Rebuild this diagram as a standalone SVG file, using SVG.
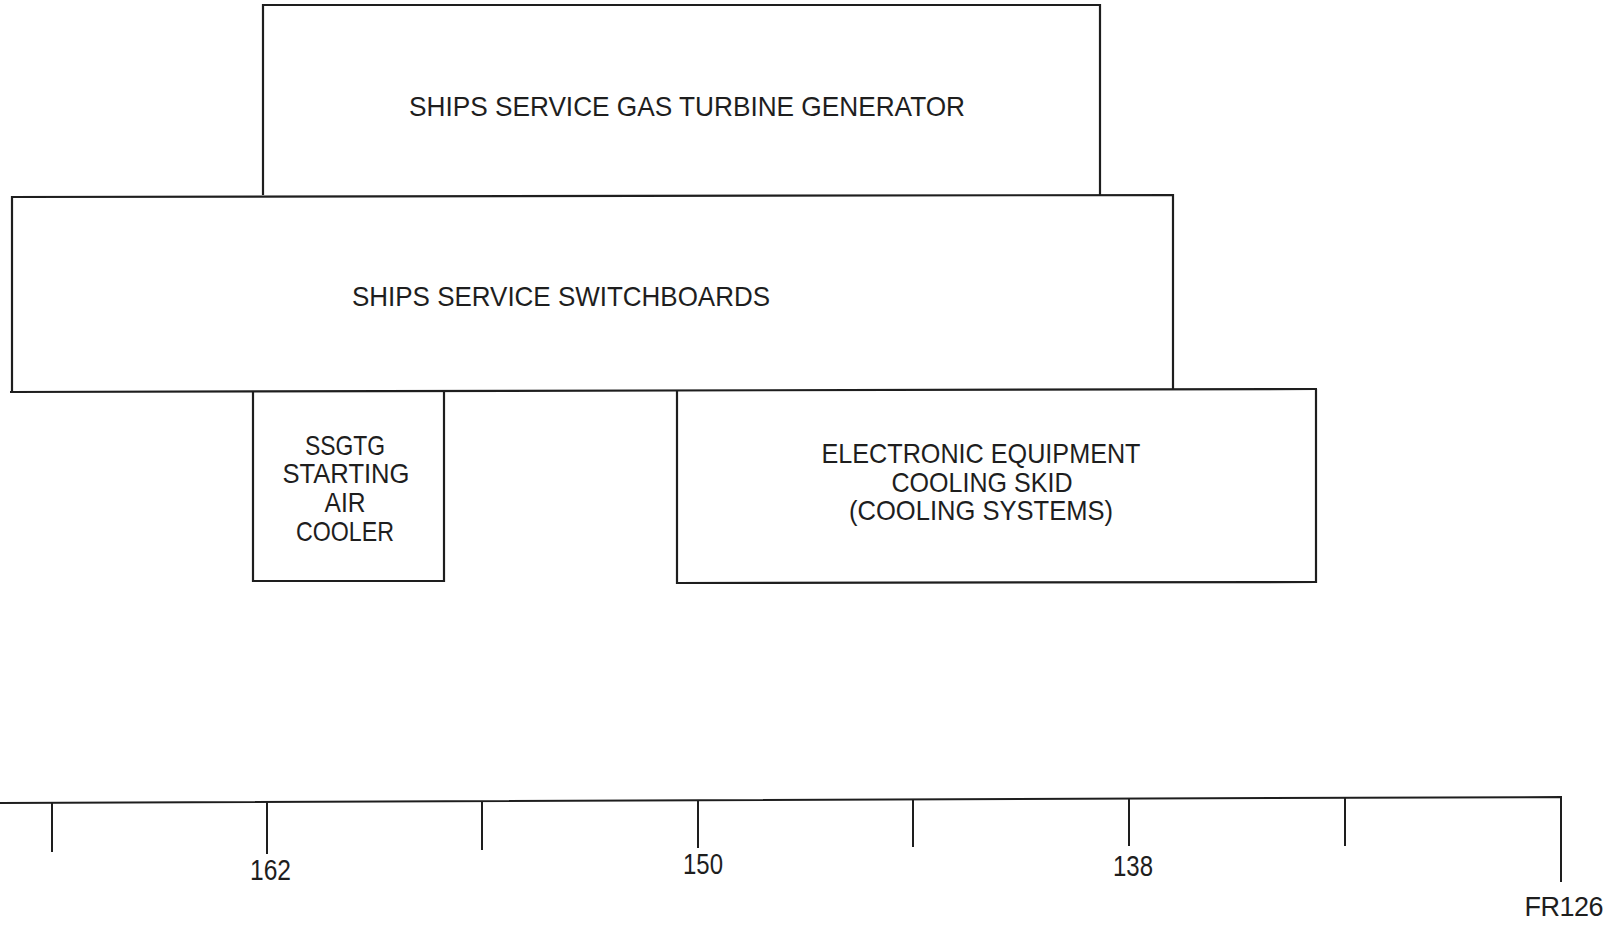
<svg xmlns="http://www.w3.org/2000/svg" width="1613" height="932" viewBox="0 0 1613 932">
<style>
.box{fill:none;stroke:#1e1e1e;stroke-width:2.2;stroke-linejoin:miter}
.ln{fill:none;stroke:#1e1e1e;stroke-width:2}
.t{font-family:"Liberation Sans",Arial,sans-serif;font-size:28px;fill:#1e1e1e;text-anchor:middle}
.n{font-family:"Liberation Sans",Arial,sans-serif;font-size:29px;fill:#1e1e1e}
</style>
<rect width="1613" height="932" fill="#ffffff"/>
<g id="ssgtg">
<path class="box" d="M263,195 L263,5 L1100,5 L1100,195"/>
<text class="t" x="687" y="116" textLength="556" lengthAdjust="spacingAndGlyphs">SHIPS SERVICE GAS TURBINE GENERATOR</text>
</g>
<g id="switchboards">
<path class="box" d="M12,392 L12,197 L1173,195 L1173,390"/>
<path class="box" d="M10,392 L1317,389"/>
<text class="t" x="561" y="306" textLength="418" lengthAdjust="spacingAndGlyphs">SHIPS SERVICE SWITCHBOARDS</text>
</g>
<g id="air-cooler">
<path class="box" d="M253,391 L253,581 L444,581 L444,390"/>
<text class="t" x="345" y="455" textLength="80" lengthAdjust="spacingAndGlyphs">SSGTG</text>
<text class="t" x="346" y="483" textLength="127" lengthAdjust="spacingAndGlyphs">STARTING</text>
<text class="t" x="345" y="512" textLength="41" lengthAdjust="spacingAndGlyphs">AIR</text>
<text class="t" x="345" y="541" textLength="98" lengthAdjust="spacingAndGlyphs">COOLER</text>
</g>
<g id="cooling-skid">
<path class="box" d="M677,390 L677,583 L1316,582 L1316,389"/>
<text class="t" x="981" y="463" textLength="319" lengthAdjust="spacingAndGlyphs">ELECTRONIC EQUIPMENT</text>
<text class="t" x="982" y="492" textLength="181" lengthAdjust="spacingAndGlyphs">COOLING SKID</text>
<text class="t" x="981" y="520" textLength="264" lengthAdjust="spacingAndGlyphs">(COOLING SYSTEMS)</text>
</g>
<g id="connectors">
<g id="frame-scale">
<path class="ln" d="M0,803 L1561,797 L1561,882"/>
<path class="ln" d="M52,803 V852 M267,802 V854 M482,801 V850 M698,800 V848 M913,800 V847 M1129,799 V846 M1345,798 V846"/>
<text class="n" x="250" y="880" textLength="41" lengthAdjust="spacingAndGlyphs">162</text>
<text class="n" x="683" y="874" textLength="40" lengthAdjust="spacingAndGlyphs">150</text>
<text class="n" x="1113" y="876" textLength="40" lengthAdjust="spacingAndGlyphs">138</text>
<text x="1603" y="916" text-anchor="end" font-family="'Liberation Sans', Arial, sans-serif" font-size="27" fill="#1e1e1e" letter-spacing="-0.5">FR126</text>
</g>
</g>
</svg>
